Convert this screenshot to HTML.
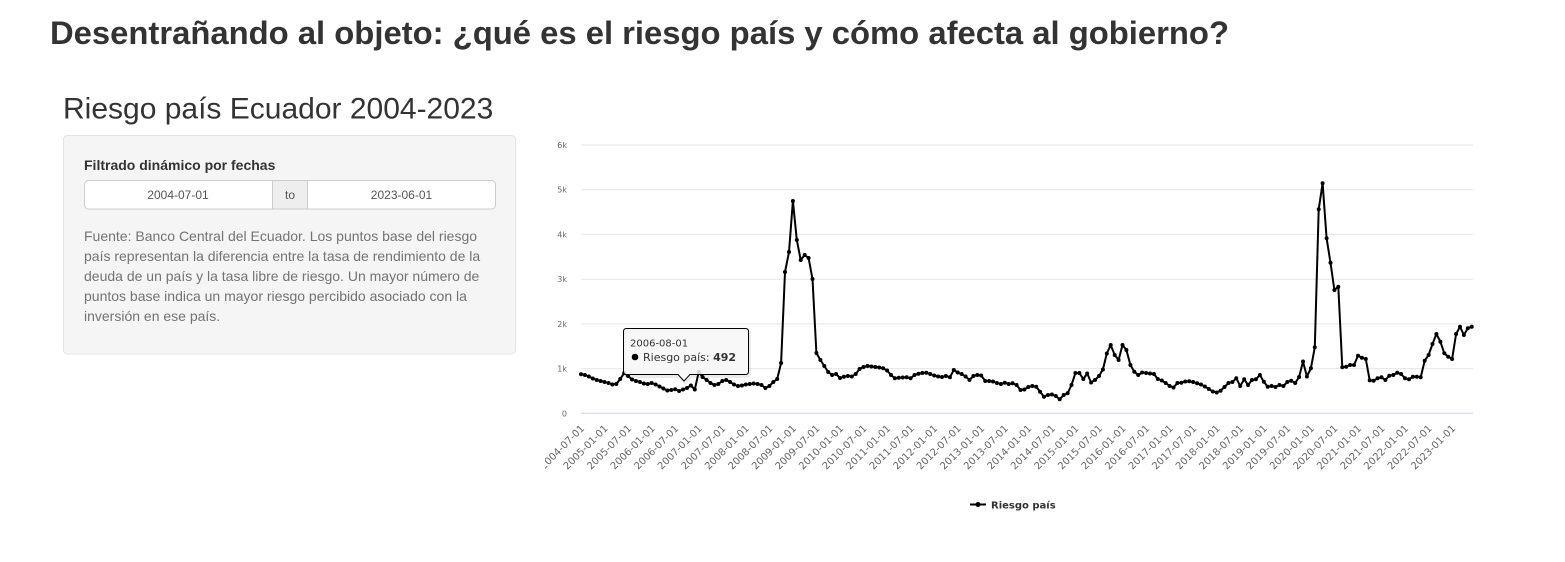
<!DOCTYPE html>
<html>
<head>
<meta charset="utf-8">
<style>
html,body{margin:0;padding:0;background:#fff;width:1565px;height:562px;overflow:hidden;}
svg{display:block;}
</style>
</head>
<body>
<svg width="1565" height="562" viewBox="0 0 1565 562" xmlns="http://www.w3.org/2000/svg">
  <defs>
    <marker id="m" markerWidth="6" markerHeight="6" refX="3" refY="3" markerUnits="userSpaceOnUse">
      <circle cx="3" cy="3" r="2" fill="#000"/>
    </marker>
    <clipPath id="chartclip"><rect x="545" y="120" width="950" height="420"/></clipPath>
  </defs>

  <!-- Page title -->
  <text x="50" y="44" textLength="1179" lengthAdjust="spacingAndGlyphs" font-family="Liberation Sans, sans-serif" font-weight="bold" font-size="32.6" fill="#333">Desentrañando al objeto: ¿qué es el riesgo país y cómo afecta al gobierno?</text>

  <!-- Subtitle -->
  <text x="63" y="118.5" font-family="Liberation Sans, sans-serif" font-size="30" fill="#333">Riesgo país Ecuador 2004-2023</text>

  <!-- Sidebar panel -->
  <rect x="63.5" y="135.5" width="452" height="218.5" rx="4" ry="4" fill="#f5f5f5" stroke="#e3e3e3"/>
  <text x="84" y="170" font-family="Liberation Sans, sans-serif" font-weight="bold" font-size="14" fill="#333">Filtrado dinámico por fechas</text>

  <rect x="84.5" y="180.5" width="411" height="28.5" rx="4" ry="4" fill="#fff" stroke="#ccc"/>
  <rect x="272.5" y="181" width="35" height="27.5" fill="#eee"/>
  <line x1="272.5" y1="180.5" x2="272.5" y2="209" stroke="#ccc"/>
  <line x1="307.5" y1="180.5" x2="307.5" y2="209" stroke="#ccc"/>
  <text x="178" y="199" text-anchor="middle" font-family="Liberation Sans, sans-serif" font-size="12" fill="#555">2004-07-01</text>
  <text x="290" y="199" text-anchor="middle" font-family="Liberation Sans, sans-serif" font-size="12" fill="#555">to</text>
  <text x="401.5" y="199" text-anchor="middle" font-family="Liberation Sans, sans-serif" font-size="12" fill="#555">2023-06-01</text>

  <g font-family="Liberation Sans, sans-serif" font-size="14" fill="#737373">
    <text x="84" y="241">Fuente: Banco Central del Ecuador. Los puntos base del riesgo</text>
    <text x="84" y="261">país representan la diferencia entre la tasa de rendimiento de la</text>
    <text x="84" y="281">deuda de un país y la tasa libre de riesgo. Un mayor número de</text>
    <text x="84" y="301">puntos base indica un mayor riesgo percibido asociado con la</text>
    <text x="84" y="321">inversión en ese país.</text>
  </g>

  <!-- Chart -->
  <g clip-path="url(#chartclip)">
    <g stroke="#e6e6e6" stroke-width="1">
      <line x1="581" y1="145" x2="1473" y2="145"/>
      <line x1="581" y1="189.7" x2="1473" y2="189.7"/>
      <line x1="581" y1="234.4" x2="1473" y2="234.4"/>
      <line x1="581" y1="279.2" x2="1473" y2="279.2"/>
      <line x1="581" y1="323.9" x2="1473" y2="323.9"/>
      <line x1="581" y1="368.6" x2="1473" y2="368.6"/>
    </g>
    <line x1="581" y1="413.3" x2="1473" y2="413.3" stroke="#ccd6eb" stroke-width="1"/>

    <g font-family="DejaVu Sans, sans-serif" font-size="8" fill="#666" text-anchor="end">
      <text x="567" y="148">6k</text>
      <text x="567" y="192.7">5k</text>
      <text x="567" y="237.4">4k</text>
      <text x="567" y="282.2">3k</text>
      <text x="567" y="326.9">2k</text>
      <text x="567" y="371.6">1k</text>
      <text x="567" y="416.3">0</text>
    </g>

    <g font-family="DejaVu Sans, sans-serif" font-size="10" fill="#666" text-anchor="end">
      <text x="585.0" y="429" transform="rotate(-45 585.0 429)">2004-07-01</text>
      <text x="608.5" y="429" transform="rotate(-45 608.5 429)">2005-01-01</text>
      <text x="632.1" y="429" transform="rotate(-45 632.1 429)">2005-07-01</text>
      <text x="655.6" y="429" transform="rotate(-45 655.6 429)">2006-01-01</text>
      <text x="679.2" y="429" transform="rotate(-45 679.2 429)">2006-07-01</text>
      <text x="702.7" y="429" transform="rotate(-45 702.7 429)">2007-01-01</text>
      <text x="726.3" y="429" transform="rotate(-45 726.3 429)">2007-07-01</text>
      <text x="749.8" y="429" transform="rotate(-45 749.8 429)">2008-01-01</text>
      <text x="773.4" y="429" transform="rotate(-45 773.4 429)">2008-07-01</text>
      <text x="796.9" y="429" transform="rotate(-45 796.9 429)">2009-01-01</text>
      <text x="820.4" y="429" transform="rotate(-45 820.4 429)">2009-07-01</text>
      <text x="844.0" y="429" transform="rotate(-45 844.0 429)">2010-01-01</text>
      <text x="867.5" y="429" transform="rotate(-45 867.5 429)">2010-07-01</text>
      <text x="891.1" y="429" transform="rotate(-45 891.1 429)">2011-01-01</text>
      <text x="914.6" y="429" transform="rotate(-45 914.6 429)">2011-07-01</text>
      <text x="938.2" y="429" transform="rotate(-45 938.2 429)">2012-01-01</text>
      <text x="961.7" y="429" transform="rotate(-45 961.7 429)">2012-07-01</text>
      <text x="985.2" y="429" transform="rotate(-45 985.2 429)">2013-01-01</text>
      <text x="1008.8" y="429" transform="rotate(-45 1008.8 429)">2013-07-01</text>
      <text x="1032.3" y="429" transform="rotate(-45 1032.3 429)">2014-01-01</text>
      <text x="1055.9" y="429" transform="rotate(-45 1055.9 429)">2014-07-01</text>
      <text x="1079.4" y="429" transform="rotate(-45 1079.4 429)">2015-01-01</text>
      <text x="1103.0" y="429" transform="rotate(-45 1103.0 429)">2015-07-01</text>
      <text x="1126.5" y="429" transform="rotate(-45 1126.5 429)">2016-01-01</text>
      <text x="1150.1" y="429" transform="rotate(-45 1150.1 429)">2016-07-01</text>
      <text x="1173.6" y="429" transform="rotate(-45 1173.6 429)">2017-01-01</text>
      <text x="1197.1" y="429" transform="rotate(-45 1197.1 429)">2017-07-01</text>
      <text x="1220.7" y="429" transform="rotate(-45 1220.7 429)">2018-01-01</text>
      <text x="1244.2" y="429" transform="rotate(-45 1244.2 429)">2018-07-01</text>
      <text x="1267.8" y="429" transform="rotate(-45 1267.8 429)">2019-01-01</text>
      <text x="1291.3" y="429" transform="rotate(-45 1291.3 429)">2019-07-01</text>
      <text x="1314.9" y="429" transform="rotate(-45 1314.9 429)">2020-01-01</text>
      <text x="1338.4" y="429" transform="rotate(-45 1338.4 429)">2020-07-01</text>
      <text x="1362.0" y="429" transform="rotate(-45 1362.0 429)">2021-01-01</text>
      <text x="1385.5" y="429" transform="rotate(-45 1385.5 429)">2021-07-01</text>
      <text x="1409.0" y="429" transform="rotate(-45 1409.0 429)">2022-01-01</text>
      <text x="1432.6" y="429" transform="rotate(-45 1432.6 429)">2022-07-01</text>
      <text x="1456.1" y="429" transform="rotate(-45 1456.1 429)">2023-01-01</text>
    </g>

    <polyline fill="none" stroke="#000" stroke-width="2" stroke-linejoin="round" stroke-linecap="round"
      marker-start="url(#m)" marker-mid="url(#m)" marker-end="url(#m)"
      points="581.0,374.3 584.9,375 588.8,376.5 592.8,378.5 596.7,380 600.6,381 604.5,382 608.5,383 612.4,384.5 616.3,384 620.2,379 624.2,373 628.1,376 632.0,379.5 635.9,381 639.9,382 643.8,383.5 647.7,384 651.6,383 655.6,384.5 659.5,386.5 663.4,388.5 667.3,390.5 671.3,390 675.2,389.3 679.1,391 683.0,389.5 687.0,388 690.9,385.5 694.8,389.5 698.7,372 702.6,377 706.6,380 710.5,383 714.4,385 718.3,384 722.3,381 726.2,380 730.1,382 734.0,384.5 738.0,386 741.9,385.5 745.8,384.5 749.7,384 753.7,383.5 757.6,384 761.5,385 765.4,388 769.4,386 773.3,382 777.2,379 781.1,363 785.0,272 789.0,252 792.9,201 796.8,240 800.7,260 804.7,255 808.6,258 812.5,279 816.4,353 820.4,360 824.3,366 828.2,372 832.1,375 836.1,374 840.0,378 843.9,376.7 847.8,376 851.8,376.5 855.7,374 859.6,369 863.5,367 867.5,366 871.4,366.5 875.3,367 879.2,367.5 883.1,368.3 887.1,370.5 891.0,375 894.9,378.3 898.8,377.8 902.8,377.5 906.7,377.3 910.6,378.3 914.5,375 918.5,373.7 922.4,373 926.3,372.7 930.2,374 934.2,375.5 938.1,376.5 942.0,377 945.9,376 949.9,377.3 953.8,370 957.7,372.5 961.6,374 965.6,376.5 969.5,380 973.4,376 977.3,375 981.2,375.5 985.2,381 989.1,381 993.0,381.5 996.9,383 1000.9,384 1004.8,382.7 1008.7,384 1012.6,383.3 1016.6,385 1020.5,390 1024.4,389.5 1028.3,387 1032.3,386 1036.2,386.7 1040.1,391.7 1044.0,396.7 1048.0,395 1051.9,394.5 1055.8,396 1059.7,399.3 1063.7,395 1067.6,393.3 1071.5,385 1075.4,373 1079.3,373 1083.3,379 1087.2,373.5 1091.1,382.5 1095.0,380 1099.0,376 1102.9,369.5 1106.8,353.5 1110.7,345 1114.7,355 1118.6,360 1122.5,345 1126.4,350 1130.4,365 1134.3,371.7 1138.2,375 1142.1,372.5 1146.1,373 1150.0,373.5 1153.9,374 1157.8,379 1161.8,380.5 1165.7,383 1169.6,386 1173.5,387.5 1177.4,383 1181.4,382.7 1185.3,381.5 1189.2,381.3 1193.1,382 1197.1,383.3 1201.0,384.5 1204.9,386.5 1208.8,389 1212.8,391.5 1216.7,392.5 1220.6,390.7 1224.5,387 1228.5,383 1232.4,382 1236.3,378.3 1240.2,386 1244.2,379.3 1248.1,385 1252.0,380 1255.9,379.3 1259.9,375 1263.8,381.7 1267.7,386.7 1271.6,386 1275.5,387 1279.5,385 1283.4,386 1287.3,382 1291.2,380.7 1295.2,383 1299.1,377 1303.0,361.5 1306.9,376.5 1310.9,368.3 1314.8,347.3 1318.7,209.3 1322.6,183.3 1326.6,238.3 1330.5,262.7 1334.4,290 1338.3,286.7 1342.3,367.3 1346.2,366.7 1350.1,365 1354.0,365 1358.0,355.7 1361.9,357.7 1365.8,359 1369.7,380.3 1373.6,380.7 1377.6,378.3 1381.5,377.3 1385.4,380 1389.3,375.7 1393.3,375 1397.2,372.7 1401.1,374 1405.0,378.3 1409.0,379.3 1412.9,376.7 1416.8,376.7 1420.7,377.3 1424.7,360.7 1428.6,355 1432.5,344 1436.4,334 1440.4,341.7 1444.3,353.3 1448.2,356.7 1452.1,359 1456.1,334 1460.0,326.7 1463.9,335 1467.8,328.3 1471.7,326.7"/>

    <line x1="970" y1="504.5" x2="986" y2="504.5" stroke="#000" stroke-width="2"/>
    <circle cx="978" cy="504.5" r="2.5" fill="#000"/>
    <text x="991" y="508.5" font-family="DejaVu Sans, sans-serif" font-weight="bold" font-size="10" fill="#333">Riesgo país</text>

    <path d="M627.5,330.5 H746.5 Q749.5,330.5 749.5,333.5 V373.5 Q749.5,376.5 746.5,376.5 H691 L685,383 L679,376.5 H627.5 Q624.5,376.5 624.5,373.5 V333.5 Q624.5,330.5 627.5,330.5 Z" fill="none" stroke="rgba(0,0,0,0.08)" stroke-width="3"/>
    <path d="M626.5,328.5 H745.5 Q748.5,328.5 748.5,331.5 V371.5 Q748.5,374.5 745.5,374.5 H690 L684,381 L678,374.5 H626.5 Q623.5,374.5 623.5,371.5 V331.5 Q623.5,328.5 626.5,328.5 Z" fill="rgba(247,247,247,0.85)" stroke="#000" stroke-width="1"/>
    <text x="630" y="346.5" font-family="DejaVu Sans, sans-serif" font-size="10" fill="#333">2006-08-01</text>
    <circle cx="635" cy="357" r="3.3" fill="#000"/>
    <text x="643" y="361" font-family="DejaVu Sans, sans-serif" font-size="11" fill="#333">Riesgo país: <tspan font-weight="bold">492</tspan></text>
  </g>
</svg>
</body>
</html>
